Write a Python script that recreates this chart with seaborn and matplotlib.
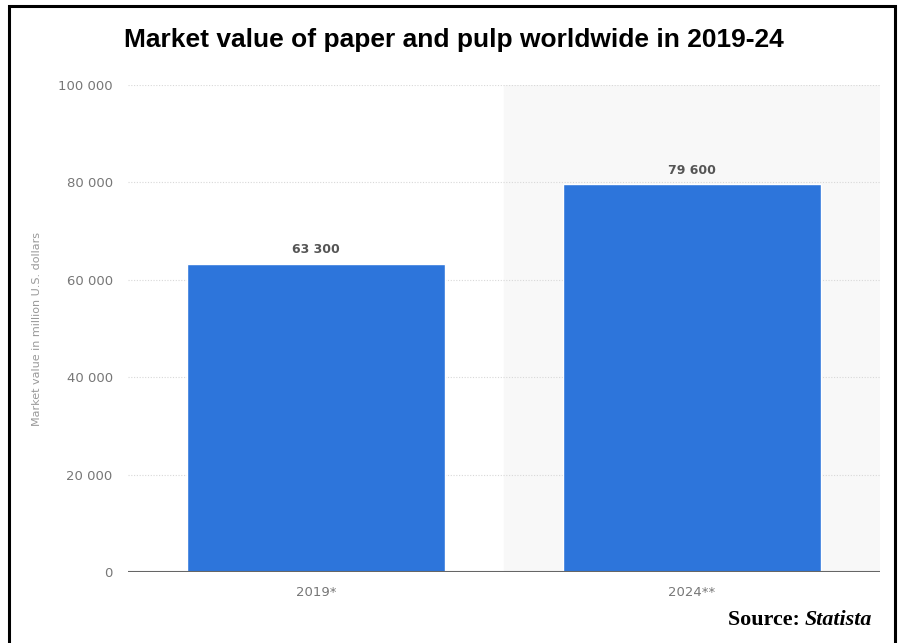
import matplotlib
matplotlib.use("Agg")
import matplotlib.pyplot as plt
import seaborn as sns
import pandas as pd
from matplotlib.patches import Rectangle

categories = ["2019*", "2024**"]
values = [63300, 79600]
value_labels = ["63 300", "79 600"]
yticks = [0, 20000, 40000, 60000, 80000, 100000]
ytick_labels = ["0", "20 000", "40 000", "60 000", "80 000", "100 000"]

sns.set_style("white")
plt.rcParams['font.family'] = ['DejaVu Sans']

W, H = 898, 643
fig = plt.figure(figsize=(W / 100, H / 100), dpi=100)
ax = fig.add_axes([128 / W, 1 - 572 / H, (880 - 128) / W, (572 - 85) / H])

df = pd.DataFrame({"year": categories, "value": values})
sns.barplot(data=df, x="year", y="value", color="#2d75db", saturation=1,
            width=0.686, ax=ax, zorder=3)

ax.set_xlim(-0.5, 1.5)
ax.set_ylim(0, 100000)
ax.axvspan(0.5, 1.5, color="#f8f8f8", zorder=0)

ax.set_yticks(yticks)
ax.set_yticklabels(ytick_labels)
for y in yticks[1:]:
    ax.axhline(y, color="#d8d8d8", lw=0.8, ls=(0, (1, 1.5)), zorder=1)
ax.axhline(0, color="#666666", lw=1.5, zorder=4)

for s in ax.spines.values():
    s.set_visible(False)
ax.tick_params(axis="both", length=0, colors="#777777", labelsize=9.5)
ax.tick_params(axis="y", pad=11)
ax.tick_params(axis="x", pad=10)
ax.set_xlabel("")
ax.set_ylabel("Market value in million U.S. dollars", color="#999999", fontsize=8)
ax.yaxis.set_label_coords((42 - 128) / (880 - 128), 0.5)

for i, (v, lab) in enumerate(zip(values, value_labels)):
    ax.text(i, v + 1600, lab, ha="center", va="bottom", fontsize=9,
            fontweight="bold", color="#555555", zorder=5)

fig.text(454 / W, 1 - 40 / H, "Market value of paper and pulp worldwide in 2019-24",
         ha="center", va="center", fontsize=19, fontweight="bold",
         family=["Liberation Sans", "DejaVu Sans"], color="black")

fig.text(805 / W, 1 - 620 / H, "Source: ", ha="right", va="center", fontsize=15.8,
         fontweight="bold", family=["Liberation Serif", "DejaVu Serif"], color="black")
fig.text(805 / W, 1 - 620 / H, "Statista", ha="left", va="center", fontsize=15.8,
         fontweight="bold", style="italic", family=["Liberation Serif", "DejaVu Serif"], color="black")

fig.patches.append(Rectangle((9 / W, -0.05), (895 - 9) / W, 1.05 - 6 / H,
                             transform=fig.transFigure, fill=False,
                             edgecolor="black", lw=2.2, zorder=10))

fig.savefig("out.png", dpi=100)
